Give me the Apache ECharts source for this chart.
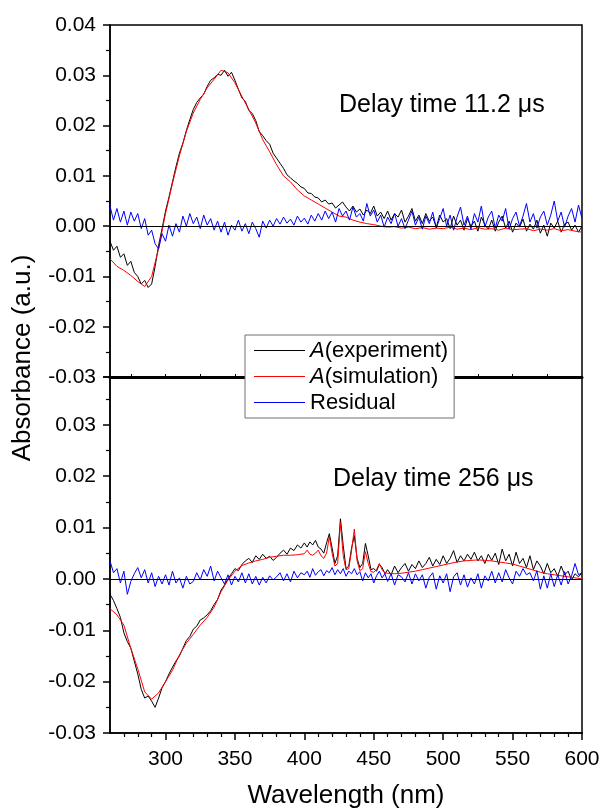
<!DOCTYPE html>
<html>
<head>
<meta charset="utf-8">
<script src="https://cdn.jsdelivr.net/npm/echarts@6/dist/echarts.min.js"></script>
<style>
html,body{margin:0;padding:0;background:#fff;}
#chart{width:603px;height:810px;}
</style>
</head>
<body>
<div id="chart"></div>
<script>
// ---- Data ----
// Upper panel: delay time 11.2 us  (measured spectra on a 2.5 nm grid)
var wlTopMeas = [
  260,262.5,265,267.5,270,272.5,275,277.5,
  280,282.5,285,287.5,290,292.5,295,297.5,
  300,302.5,305,307.5,310,312.5,315,317.5,
  320,322.5,325,327.5,330,332.5,335,337.5,
  340,342.5,345,347.5,350,352.5,355,357.5,
  360,362.5,365,367.5,370,372.5,375,377.5,
  380,382.5,385,387.5,390,392.5,395,397.5,
  400,402.5,405,407.5,410,412.5,415,417.5,
  420,422.5,425,427.5,430,432.5,435,437.5,
  440,442.5,445,447.5,450,452.5,455,457.5,
  460,462.5,465,467.5,470,472.5,475,477.5,
  480,482.5,485,487.5,490,492.5,495,497.5,
  500,502.5,505,507.5,510,512.5,515,517.5,
  520,522.5,525,527.5,530,532.5,535,537.5,
  540,542.5,545,547.5,550,552.5,555,557.5,
  560,562.5,565,567.5,570,572.5,575,577.5,
  580,582.5,585,587.5,590,592.5,595,597.5,
  600];
var expTop = [
  -0.0030,-0.0048,-0.0040,-0.0062,-0.0055,-0.0078,-0.0070,-0.0092,
  -0.0100,-0.0115,-0.0108,-0.0122,-0.0115,-0.0080,-0.0038,-0.0005,
  0.0030,0.0058,0.0088,0.0118,0.0145,0.0165,0.0190,0.0212,
  0.0232,0.0246,0.0255,0.0262,0.0278,0.0290,0.0295,0.0302,
  0.0300,0.0310,0.0298,0.0306,0.0290,0.0272,0.0255,0.0248,
  0.0230,0.0224,0.0210,0.0188,0.0180,0.0170,0.0163,0.0145,
  0.0135,0.0125,0.0115,0.0102,0.0096,0.0090,0.0085,0.0078,
  0.0075,0.0066,0.0065,0.0058,0.0056,0.0048,0.0052,0.0044,
  0.0046,0.0036,0.0042,0.0048,0.0038,0.0030,0.0040,0.0028,
  0.0034,0.0022,0.0032,0.0025,0.0040,0.0020,0.0028,0.0015,
  0.0030,0.0012,0.0025,0.0018,0.0032,0.0008,0.0020,0.0035,
  0.0010,0.0022,0.0005,0.0025,0.0010,0.0018,-0.0002,0.0022,
  0.0008,0.0015,-0.0005,0.0020,0.0002,0.0012,-0.0008,0.0015,
  0.0000,0.0010,-0.0010,0.0018,0.0003,-0.0006,0.0012,-0.0010,
  0.0008,0.0020,-0.0004,0.0010,-0.0012,0.0006,-0.0002,0.0014,
  -0.0010,0.0004,-0.0006,0.0012,-0.0014,0.0002,-0.0020,0.0006,
  -0.0004,0.0010,-0.0012,0.0004,0.0008,-0.0008,0.0002,-0.0012,
  0.0000];
var resTop = [
  0.0040,0.0012,0.0035,0.0008,0.0030,0.0002,0.0028,0.0010,
  0.0025,-0.0005,0.0015,-0.0018,-0.0008,-0.0035,-0.0045,-0.0015,
  -0.0030,0.0002,-0.0020,0.0005,-0.0012,0.0020,0.0000,0.0025,
  0.0005,0.0018,-0.0005,0.0022,0.0002,0.0015,-0.0008,0.0010,
  -0.0012,0.0008,-0.0018,0.0002,-0.0008,0.0012,-0.0010,0.0005,
  -0.0015,0.0008,-0.0005,-0.0022,0.0010,-0.0004,0.0012,0.0000,
  0.0015,0.0004,0.0018,0.0006,0.0014,0.0002,0.0020,0.0008,
  0.0016,0.0004,0.0022,0.0010,0.0025,0.0012,0.0030,0.0015,
  0.0028,0.0008,0.0035,0.0020,0.0030,0.0012,0.0038,0.0018,
  0.0025,0.0010,0.0045,0.0020,0.0032,0.0008,0.0022,-0.0002,
  0.0018,0.0005,0.0025,0.0000,0.0015,-0.0005,0.0012,0.0030,
  0.0002,0.0018,-0.0006,0.0020,0.0005,0.0028,-0.0004,0.0015,
  0.0035,0.0000,0.0022,-0.0008,0.0018,0.0038,0.0002,0.0020,
  -0.0006,0.0025,0.0008,0.0040,-0.0002,0.0018,0.0030,-0.0004,
  0.0022,0.0010,0.0035,-0.0006,0.0015,0.0028,0.0000,0.0020,
  0.0045,0.0008,0.0025,-0.0004,0.0018,0.0030,0.0002,0.0022,
  0.0050,0.0010,0.0028,-0.0002,0.0020,0.0035,0.0008,0.0042,
  0.0015];
// simulation on a 5 nm grid
var wlTopSim = [260,265,270,275,280,285,290,295,300,305,310,315,320,325,330,335,340,345,350,355,360,365,370,375,380,385,390,395,400,405,410,415,420,425,430,435,440,445,450,455,460,465,470,475,480,485,490,495,500,505,510,515,520,525,530,535,540,545,550,555,560,565,570,575,580,585,590,595,600];
var simTop = [-0.0065,-0.0080,-0.0088,-0.0098,-0.0110,-0.0120,-0.0100,-0.0045,0.0025,0.0085,0.0140,0.0188,0.0225,0.0252,0.0275,0.0292,0.0310,0.0305,0.0285,0.0258,0.0232,0.0205,0.0172,0.0148,0.0122,0.0100,0.0088,0.0072,0.0060,0.0052,0.0044,0.0036,0.0028,0.0020,0.0018,0.0012,0.0008,0.0005,0.0003,0.0000,-0.0002,-0.0001,-0.0004,-0.0002,-0.0005,-0.0003,-0.0006,-0.0004,-0.0005,-0.0002,-0.0006,-0.0004,-0.0007,-0.0003,-0.0006,-0.0005,-0.0008,-0.0004,-0.0007,-0.0006,-0.0005,-0.0009,-0.0006,-0.0008,-0.0005,-0.0009,-0.0007,-0.0010,-0.0012];

// Lower panel: delay time 256 us (measured spectra)
var wlBotMeas = [
  260,262.5,265,267.5,270,272.5,275,277.5,
  280,282.5,285,287.5,290,292.5,295,297.5,
  300,302.5,305,307.5,310,312.5,315,317.5,
  320,322.5,325,327.5,330,332.5,335,337.5,
  340,342.5,345,347.5,350,352.5,355,357.5,
  360,362.5,365,367.5,370,372.5,375,377.5,
  380,382.5,385,387.5,390,392.5,395,397.5,
  400,402,404,406,408,410,412,414,416,418,
  420,422,424,426,428,430,432,434,436,438,
  440,442,444,446,448,450,452,454,456,458,
  460,462.5,465,467.5,470,472.5,475,477.5,
  480,482.5,485,487.5,490,492.5,495,497.5,
  500,502.5,505,507.5,510,512.5,515,517.5,
  520,522.5,525,527.5,530,532.5,535,537.5,
  540,542.5,545,547.5,550,552.5,555,557.5,
  560,562.5,565,567.5,570,572.5,575,577.5,
  580,582.5,585,587.5,590,592.5,595,597.5,
  600];
var expBot = [
  -0.0030,-0.0042,-0.0058,-0.0075,-0.0105,-0.0122,-0.0135,-0.0160,
  -0.0185,-0.0215,-0.0232,-0.0228,-0.0238,-0.0250,-0.0232,-0.0212,
  -0.0200,-0.0185,-0.0172,-0.0160,-0.0150,-0.0135,-0.0120,-0.0112,
  -0.0098,-0.0092,-0.0080,-0.0076,-0.0070,-0.0062,-0.0050,-0.0040,
  -0.0022,-0.0012,0.0000,0.0010,0.0020,0.0016,0.0028,0.0035,
  0.0040,0.0032,0.0045,0.0038,0.0048,0.0040,0.0044,0.0036,
  0.0042,0.0050,0.0056,0.0048,0.0060,0.0055,0.0066,0.0060,
  0.0070,0.0062,0.0072,0.0066,0.0075,0.0062,0.0058,0.0050,0.0070,0.0088,
  0.0060,0.0030,0.0045,0.0117,0.0065,0.0020,0.0025,0.0060,0.0084,0.0040,
  0.0022,0.0030,0.0069,0.0045,0.0018,0.0020,0.0015,0.0028,0.0022,0.0010,
  0.0018,0.0008,0.0025,0.0012,0.0022,0.0030,0.0015,0.0028,
  0.0020,0.0035,0.0022,0.0030,0.0042,0.0025,0.0038,0.0028,
  0.0045,0.0030,0.0040,0.0055,0.0032,0.0045,0.0035,0.0048,
  0.0038,0.0052,0.0035,0.0045,0.0030,0.0048,0.0036,0.0050,
  0.0028,0.0058,0.0035,0.0048,0.0025,0.0052,0.0030,0.0040,
  0.0022,0.0045,0.0018,0.0035,0.0025,0.0010,0.0030,0.0012,
  0.0020,0.0005,0.0025,0.0008,0.0015,-0.0002,0.0010,0.0004,
  0.0012];
var resBot = [
  0.0035,0.0012,0.0020,-0.0008,0.0015,-0.0030,-0.0005,0.0010,
  0.0022,0.0002,0.0018,-0.0008,0.0012,-0.0015,0.0005,-0.0010,
  0.0008,-0.0012,0.0015,-0.0008,0.0002,-0.0018,0.0005,-0.0010,
  -0.0005,0.0012,-0.0002,0.0018,0.0005,0.0025,-0.0004,0.0015,
  0.0002,-0.0010,0.0008,-0.0012,0.0005,-0.0006,0.0012,-0.0008,
  0.0010,-0.0010,0.0005,-0.0012,0.0003,-0.0008,0.0006,-0.0002,
  0.0004,0.0012,-0.0004,0.0010,-0.0006,0.0015,0.0002,0.0012,
  0.0008,0.0015,0.0003,0.0020,0.0007,0.0014,0.0018,0.0006,0.0016,0.0012,
  0.0022,0.0008,0.0018,0.0010,0.0020,0.0005,0.0015,0.0010,0.0020,0.0008,
  0.0014,-0.0004,0.0012,0.0002,0.0010,-0.0008,0.0006,0.0015,0.0002,0.0010,
  -0.0005,0.0010,-0.0012,0.0008,0.0004,-0.0006,0.0012,-0.0010,
  0.0010,-0.0004,0.0008,-0.0018,0.0003,0.0012,-0.0020,0.0006,
  -0.0008,0.0010,-0.0025,0.0004,0.0012,-0.0012,0.0008,-0.0016,
  0.0002,-0.0010,0.0010,-0.0018,0.0006,-0.0004,0.0015,-0.0008,
  0.0012,-0.0006,0.0018,0.0002,-0.0010,0.0015,0.0005,0.0020,
  0.0008,0.0012,-0.0004,0.0016,-0.0020,0.0006,-0.0018,0.0010,
  -0.0015,0.0008,-0.0012,0.0014,-0.0010,0.0006,0.0030,0.0008,
  0.0012];
// simulation grid
var wlBotSim = [260,265,270,275,280,285,290,295,300,305,310,315,320,325,330,335,340,345,350,355,360,365,370,375,380,385,390,395,400,402,404,406,408,410,412,414,416,418,420,422,424,426,428,430,432,434,436,438,440,442,444,446,448,450,452,454,456,458,460,465,470,475,480,485,490,495,500,505,510,515,520,525,530,535,540,545,550,555,560,565,570,575,580,585,590,595,600];
var simBot = [-0.0058,-0.0070,-0.0090,-0.0135,-0.0175,-0.0220,-0.0234,-0.0222,-0.0200,-0.0178,-0.0148,-0.0125,-0.0108,-0.0090,-0.0075,-0.0055,-0.0025,-0.0002,0.0015,0.0026,0.0031,0.0035,0.0038,0.0042,0.0044,0.0046,0.0046,0.0047,0.0049,0.0056,0.0048,0.0046,0.0050,0.0056,0.0045,0.0040,0.0050,0.0082,0.0050,0.0025,0.0030,0.0110,0.0045,0.0018,0.0020,0.0055,0.0097,0.0035,0.0016,0.0020,0.0053,0.0030,0.0014,0.0013,0.0018,0.0030,0.0018,0.0012,0.0011,0.0010,0.0011,0.0013,0.0015,0.0018,0.0021,0.0024,0.0027,0.0030,0.0033,0.0035,0.0036,0.0037,0.0036,0.0035,0.0033,0.0031,0.0029,0.0025,0.0021,0.0017,0.0013,0.0010,0.0008,0.0006,0.0004,0.0002,0.0000];

// Tick values
var xMajorTicks = [300,350,400,450,500,550,600];
var xMinorTicks = [270,280,290,310,320,330,340,360,370,380,390,410,420,430,440,460,470,480,490,510,520,530,540,560,570,580,590];
var xDividerTicks = [275,300,325,350,375,400,425,450,475,500,525,550,575];

var legendNames = {exp: '{i|A}(experiment)', sim: '{i|A}(simulation)', res: 'Residual'};
var panelLabels = ['Delay time 11.2 \u03bcs', 'Delay time 256 \u03bcs'];

function pairs(xs, ys){ return xs.map(function(x,i){ return [x, ys[i]]; }); }

var FONT = '"Liberation Sans", Arial, Helvetica, sans-serif';
var chart = echarts.init(document.getElementById('chart'), null, {renderer:'canvas'});

function yFmt(v){ if (Math.abs(v) < 1e-9) return '0.00'; return v.toFixed(2); }

var zeroLine = {
  silent: true, symbol: ['none','none'], animation: false,
  label: {show: false},
  lineStyle: {color: '#000', width: 1, type: 'solid'},
  data: [{yAxis: 0}]
};

function mkSeries(name, xi, xs, ys, color, withZero){
  var s = {
    name: name, type: 'line', xAxisIndex: xi, yAxisIndex: xi === 0 ? 0 : 1,
    data: pairs(xs, ys), symbol: 'none', showSymbol: false,
    lineStyle: {color: color, width: 1}, itemStyle: {color: color},
    animation: false, clip: true
  };
  if (withZero) s.markLine = zeroLine;
  return s;
}

var option = {
  backgroundColor: '#fff',
  animation: false,
  textStyle: {fontFamily: FONT},
  grid: [
    {left: 110, right: 21, top: 25, height: 352, show: true, borderColor: '#000', borderWidth: 1.5, backgroundColor: 'transparent'},
    {left: 110, right: 21, top: 377, height: 361, show: true, borderColor: '#000', borderWidth: 1.5, backgroundColor: 'transparent'}
  ],
  xAxis: [
    {gridIndex: 0, type: 'value', min: 260, max: 600, position: 'bottom',
     axisLine: {onZero: false, lineStyle: {color: '#000', width: 3}},
     axisTick: {show: true, inside: true, length: 3, customValues: xDividerTicks, lineStyle: {color: '#000', width: 1}},
     axisLabel: {show: false}, splitLine: {show: false}},
    {gridIndex: 1, type: 'value', min: 260, max: 600, position: 'bottom',
     axisLine: {onZero: false, lineStyle: {color: '#000', width: 1.5}},
     axisTick: {show: true, length: 7, customValues: xMajorTicks, lineStyle: {color: '#000', width: 1.5}},
     axisLabel: {show: true, customValues: xMajorTicks, color: '#000', fontSize: 21, fontFamily: FONT, margin: 16},
     splitLine: {show: false},
     name: 'Wavelength (nm)', nameLocation: 'middle', nameGap: 50,
     nameTextStyle: {color: '#000', fontSize: 26, fontFamily: FONT}},
    {gridIndex: 1, type: 'value', min: 260, max: 600, position: 'bottom',
     axisLine: {show: false, onZero: false},
     axisTick: {show: true, length: 4, customValues: xMinorTicks, lineStyle: {color: '#000', width: 1.2}},
     axisLabel: {show: false}, splitLine: {show: false}}
  ],
  yAxis: [
    {gridIndex: 0, type: 'value', min: -0.03, max: 0.04, interval: 0.01,
     axisLine: {show: true, onZero: false, lineStyle: {color: '#000', width: 1.5}},
     axisTick: {show: true, length: 7, lineStyle: {color: '#000', width: 1.5}},
     minorTick: {show: true, splitNumber: 2, length: 4, lineStyle: {color: '#000', width: 1.2}},
     axisLabel: {color: '#000', fontSize: 21, fontFamily: FONT, margin: 14, formatter: yFmt},
     splitLine: {show: false}, minorSplitLine: {show: false}},
    {gridIndex: 1, type: 'value', min: -0.03, max: 0.0393, interval: 0.01,
     axisLine: {show: true, onZero: false, lineStyle: {color: '#000', width: 1.5}},
     axisTick: {show: true, length: 7, lineStyle: {color: '#000', width: 1.5}},
     minorTick: {show: true, splitNumber: 2, length: 4, lineStyle: {color: '#000', width: 1.2}},
     axisLabel: {color: '#000', fontSize: 21, fontFamily: FONT, margin: 14, formatter: yFmt, showMaxLabel: false},
     splitLine: {show: false}, minorSplitLine: {show: false}}
  ],
  legend: {
    show: true, orient: 'vertical', left: 245, top: 335, z: 20,
    backgroundColor: '#fff', borderColor: '#707070', borderWidth: 1,
    padding: [4, 6, 4, 9], itemGap: 3, itemWidth: 51, itemHeight: 1,
    icon: 'rect',
    data: ['exp', 'sim', 'res'],
    formatter: function(n){ return legendNames[n]; },
    textStyle: {color: '#000', fontSize: 22, fontFamily: FONT, lineHeight: 23,
      rich: {i: {fontStyle: 'italic', fontSize: 22, fontFamily: FONT, color: '#000', lineHeight: 23}}}
  },
  graphic: [
    {type: 'text', x: 23, y: 358, rotation: Math.PI / 2, z: 30,
     style: {text: 'Absorbance (a.u.)', font: '26px ' + FONT, fill: '#000', align: 'center', verticalAlign: 'middle'}},
    {type: 'text', x: 339, y: 105, z: 30,
     style: {text: panelLabels[0], font: '25px ' + FONT, fill: '#000', align: 'left', verticalAlign: 'middle'}},
    {type: 'text', x: 333, y: 479, z: 30,
     style: {text: panelLabels[1], font: '25px ' + FONT, fill: '#000', align: 'left', verticalAlign: 'middle'}}
  ],
  series: [
    mkSeries('exp', 0, wlTopMeas, expTop, '#000000', true),
    mkSeries('sim', 0, wlTopSim, simTop, '#ff0000', false),
    mkSeries('res', 0, wlTopMeas, resTop, '#0000ff', false),
    mkSeries('exp', 1, wlBotMeas, expBot, '#000000', true),
    mkSeries('sim', 1, wlBotSim, simBot, '#ff0000', false),
    mkSeries('res', 1, wlBotMeas, resBot, '#0000ff', false)
  ]
};
chart.setOption(option);
</script>
</body>
</html>
